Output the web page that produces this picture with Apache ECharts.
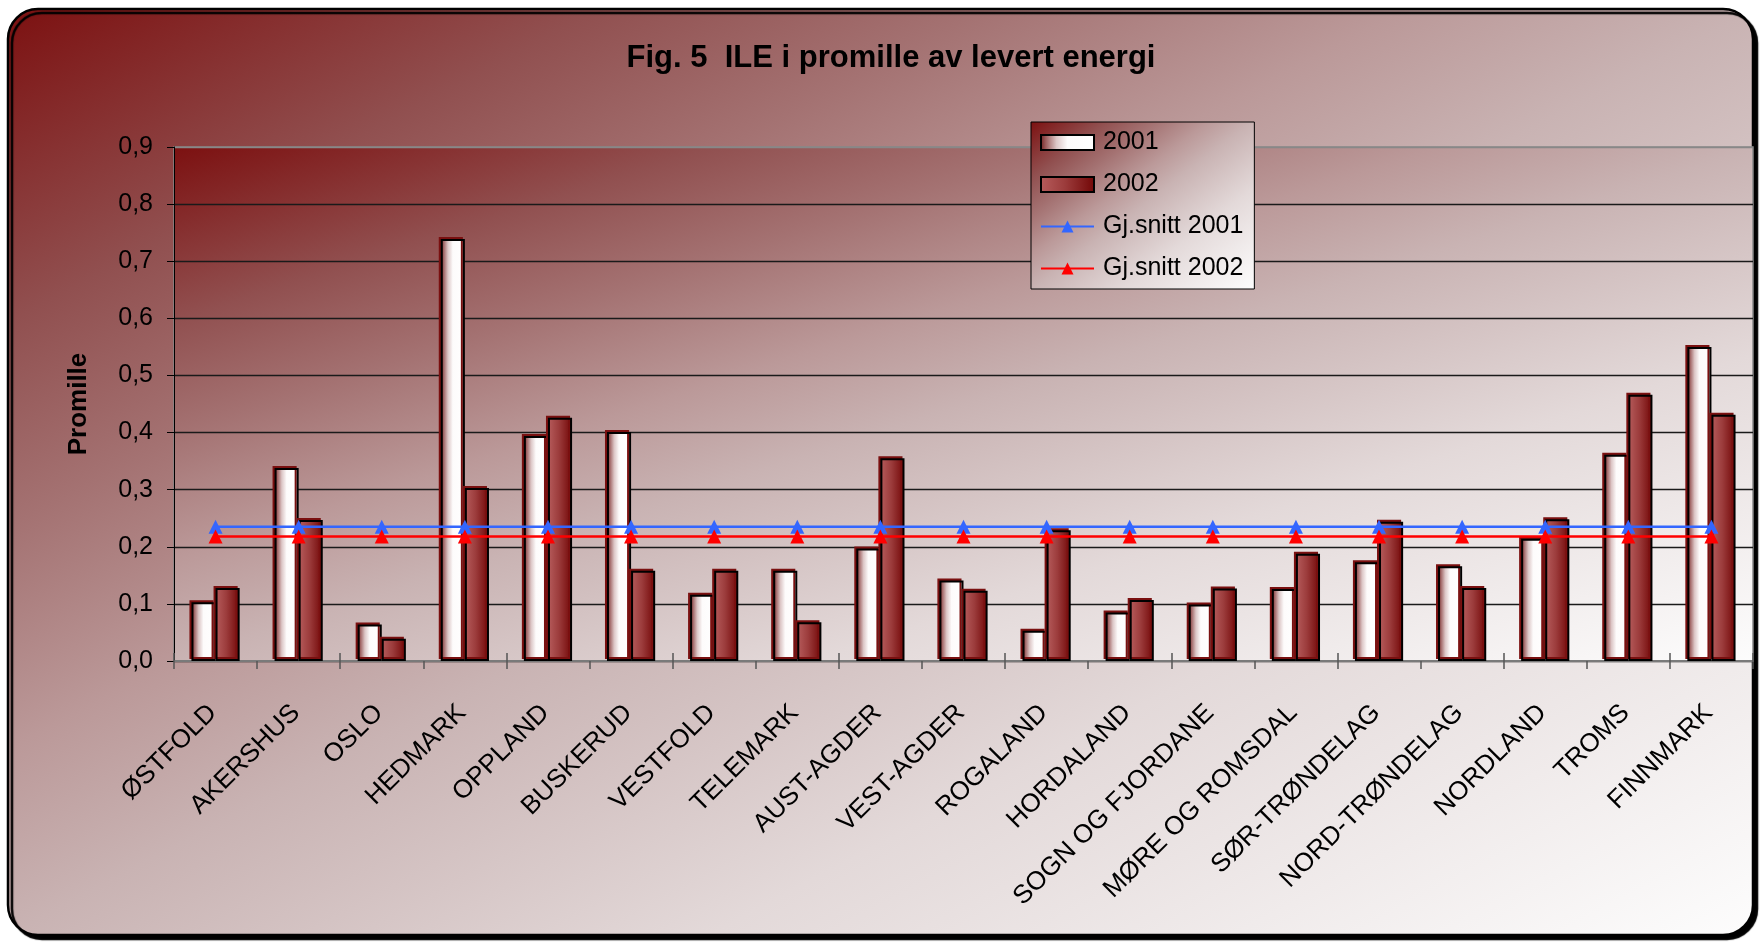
<!DOCTYPE html>
<html>
<head>
<meta charset="utf-8">
<script src="https://cdn.jsdelivr.net/npm/echarts@6/dist/echarts.min.js"></script>
<style>
  html, body { margin: 0; padding: 0; background: #fff; }
  #chart { width: 1762px; height: 943px; }
</style>
</head>
<body>
<div id="chart"></div>
<script>
// Counties
const categories = ['ØSTFOLD', 'AKERSHUS', 'OSLO', 'HEDMARK', 'OPPLAND', 'BUSKERUD', 'VESTFOLD',
  'TELEMARK', 'AUST-AGDER', 'VEST-AGDER', 'ROGALAND', 'HORDALAND', 'SOGN OG FJORDANE',
  'MØRE OG ROMSDAL', 'SØR-TRØNDELAG', 'NORD-TRØNDELAG', 'NORDLAND', 'TROMS', 'FINNMARK'];

// ILE per mille of delivered energy
const ile2001 = [0.103, 0.338, 0.064, 0.739, 0.394, 0.401, 0.116, 0.158, 0.197, 0.141,
  0.053, 0.085, 0.099, 0.126, 0.173, 0.166, 0.214, 0.361, 0.550];
const ile2002 = [0.128, 0.247, 0.039, 0.303, 0.426, 0.158, 0.158, 0.068, 0.355, 0.123,
  0.229, 0.107, 0.127, 0.188, 0.244, 0.128, 0.248, 0.466, 0.431];

// National averages
const snitt2001 = [0.235, 0.235, 0.235, 0.235, 0.235, 0.235, 0.235, 0.235, 0.235, 0.235,
  0.235, 0.235, 0.235, 0.235, 0.235, 0.235, 0.235, 0.235, 0.235];
const snitt2002 = [0.218, 0.218, 0.218, 0.218, 0.218, 0.218, 0.218, 0.218, 0.218, 0.218,
  0.218, 0.218, 0.218, 0.218, 0.218, 0.218, 0.218, 0.218, 0.218];

const seriesNames = ['2001', '2002', 'Gj.snitt 2001', 'Gj.snitt 2002'];
const yTicks = ['0,0', '0,1', '0,2', '0,3', '0,4', '0,5', '0,6', '0,7', '0,8', '0,9'];

const FONT = '"Liberation Sans", Arial, sans-serif';
const LG = echarts.graphic.LinearGradient;

// dark red to white, isolines running along the anti-diagonal of a box
const fadeStops = [
  { offset: 0, color: '#7c1010' },
  { offset: 0.17, color: '#915050' },
  { offset: 0.28, color: '#a47272' },
  { offset: 0.4, color: '#bb9999' },
  { offset: 0.5, color: '#c9b3b3' },
  { offset: 0.7, color: '#e3d9d9' },
  { offset: 1, color: '#fdfdfd' }
];
function diagFade(w, h) {
  const k = 2 * w * h / (w * w + h * h);
  return new LG(0, 0, k * h / w, k * w / h, fadeStops);
}

const W = 1762, H = 943;
const frame = { x: 8, y: 9, w: 1745, h: 926 };
const grid = { left: 174, top: 147, right: 9, bottom: 282 };
const plotW = W - grid.left - grid.right, plotH = H - grid.top - grid.bottom;

const bar2001Fill = new LG(0, 0, 1, 0, [
  { offset: 0, color: '#6e1c1c' },
  { offset: 0.1, color: '#9a5a5a' },
  { offset: 0.3, color: '#dcc6c6' },
  { offset: 0.5, color: '#fdfbfb' },
  { offset: 1, color: '#ffffff' }
]);
const bar2002Fill = new LG(0, 0, 1, 0, [
  { offset: 0, color: '#b65c5c' },
  { offset: 0.45, color: '#9c3c3c' },
  { offset: 1, color: '#720606' }
]);

const chart = echarts.init(document.getElementById('chart'));

chart.setOption({
  backgroundColor: '#ffffff',
  animation: false,
  graphic: [{
    type: 'rect',
    z: -10,
    shape: { x: frame.x, y: frame.y, width: frame.w, height: frame.h, r: 30 },
    style: {
      fill: diagFade(frame.w, frame.h),
      stroke: '#000',
      lineWidth: 2.5,
      shadowColor: '#000',
      shadowOffsetX: 4,
      shadowOffsetY: 4,
      shadowBlur: 1
    }
  }],
  title: {
    text: 'Fig. 5  ILE i promille av levert energi',
    left: 886,
    top: 38,
    textAlign: 'center',
    textStyle: { fontFamily: FONT, fontSize: 31, fontWeight: 'bold', color: '#000' }
  },
  legend: {
    orient: 'vertical',
    left: 1031,
    top: 122,
    padding: [8, 11, 8, 9],
    itemGap: 17,
    itemWidth: 53,
    itemHeight: 15,
    backgroundColor: diagFade(224, 169),
    borderColor: '#000',
    borderWidth: 1,
    textStyle: { fontFamily: FONT, fontSize: 25, color: '#000', padding: [0, 0, 0, 4] },
    data: [
      { name: seriesNames[0], icon: 'rect' },
      { name: seriesNames[1], icon: 'rect' },
      seriesNames[2],
      seriesNames[3]
    ]
  },
  grid: {
    left: grid.left, top: grid.top, right: grid.right, bottom: grid.bottom,
    containLabel: false,
    outerBoundsMode: 'none',
    show: true,
    backgroundColor: diagFade(plotW, plotH),
    borderColor: '#888',
    borderWidth: 1.5
  },
  xAxis: [{
    type: 'category',
    data: categories,
    axisLine: { lineStyle: { color: '#7a7a7a', width: 2 } },
    axisTick: { show: true, length: 8, lineStyle: { color: '#555', width: 1.5 } },
    axisLabel: {
      interval: 0, rotate: 45, margin: 45,
      padding: [0, 4, 0, 0],
      fontFamily: FONT, fontSize: 26, color: '#000'
    },
    splitLine: { show: false }
  }, {
    type: 'category',
    data: categories,
    position: 'bottom',
    axisLine: { show: false },
    axisTick: { show: true, inside: true, length: 8, lineStyle: { color: '#555', width: 1.5 } },
    axisLabel: { show: false },
    splitLine: { show: false }
  }],
  yAxis: {
    type: 'value',
    min: 0,
    max: 0.9,
    interval: 0.1,
    name: 'Promille',
    nameLocation: 'middle',
    nameRotate: 90,
    nameGap: 82,
    nameTextStyle: { fontFamily: FONT, fontSize: 26, fontWeight: 'bold', color: '#000' },
    axisLine: { show: true, lineStyle: { color: '#000', width: 1 } },
    axisTick: { show: true, length: 7, lineStyle: { color: '#000', width: 1 } },
    axisLabel: {
      margin: 21,
      fontFamily: FONT, fontSize: 25, color: '#000',
      formatter: function (v) { return yTicks[Math.round(v * 10)]; }
    },
    splitLine: {
      show: true,
      lineStyle: {
        color: ['#1a1a1a', '#1a1a1a', '#1a1a1a', '#1a1a1a', '#1a1a1a',
                '#1a1a1a', '#1a1a1a', '#1a1a1a', '#1a1a1a', '#888'],
        width: 1.3
      }
    }
  },
  series: [{
    name: seriesNames[0],
    type: 'bar',
    data: ile2001,
    barGap: '0%',
    barCategoryGap: '42%',
    z: 2,
    itemStyle: {
      color: bar2001Fill,
      borderColor: '#000',
      borderWidth: 2,
      shadowColor: '#7a1010',
      shadowOffsetX: -2,
      shadowOffsetY: -2,
      shadowBlur: 0.5
    }
  }, {
    name: seriesNames[1],
    type: 'bar',
    data: ile2002,
    z: 2,
    itemStyle: {
      color: bar2002Fill,
      borderColor: '#000',
      borderWidth: 2,
      shadowColor: '#7a1010',
      shadowOffsetX: -2,
      shadowOffsetY: -2,
      shadowBlur: 0.5
    }
  }, {
    name: seriesNames[2],
    type: 'line',
    data: snitt2001,
    z: 4,
    symbol: 'triangle',
    symbolSize: 14,
    color: '#3366ff',
    lineStyle: { color: '#3366ff', width: 2.5 },
    itemStyle: { color: '#3366ff' }
  }, {
    name: seriesNames[3],
    type: 'line',
    data: snitt2002,
    z: 5,
    symbol: 'triangle',
    symbolSize: 14,
    color: '#ff0000',
    lineStyle: { color: '#ff0000', width: 2.5 },
    itemStyle: { color: '#ff0000' }
  }]
});
</script>
</body>
</html>
